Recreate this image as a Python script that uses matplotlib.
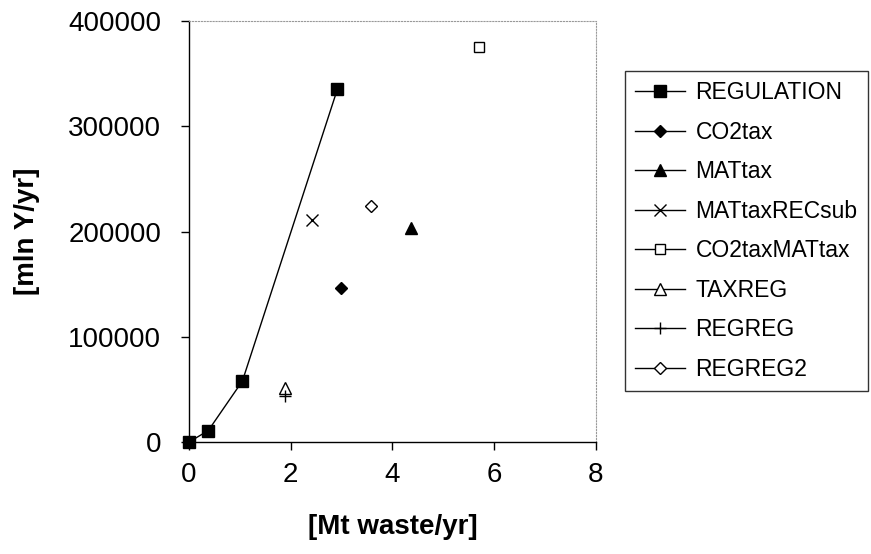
import matplotlib.pyplot as plt

plt.rcParams['font.family'] = ['Liberation Sans', 'DejaVu Sans']

# data
reg_x = [0.0, 0.38, 1.05, 2.92]
reg_y = [0, 11000, 58000, 335500]

names = ["CO2tax", "MATtax", "MATtaxRECsub", "CO2taxMATtax", "TAXREG", "REGREG", "REGREG2"]
pts_x = [2.99, 4.37, 2.42, 5.70, 1.88, 1.88, 3.58]
pts_y = [146000, 203000, 211000, 375000, 51000, 44000, 224000]

styles = [
    dict(marker="D", mfc="black", ms=6),
    dict(marker="^", mfc="black", ms=8),
    dict(marker="x", mfc="black", ms=9, mew=1.0),
    dict(marker="s", mfc="white", ms=7.5, mew=1.0),
    dict(marker="^", mfc="white", ms=8, mew=1.0),
    dict(marker="+", mfc="black", ms=9, mew=1.0),
    dict(marker="D", mfc="white", ms=6, mew=1.0),
]

fig = plt.figure(figsize=(8.71, 5.54), dpi=100)
ax = fig.add_axes([0.217, 0.202, 0.467, 0.760])

ax.plot(reg_x, reg_y, "-", color="black", lw=1.0, marker="s", ms=8,
        mfc="black", mec="black", label="REGULATION", clip_on=False, zorder=3)
for n, x, y, st in zip(names, pts_x, pts_y, styles):
    ax.plot([x], [y], "-", color="black", lw=1.0, mec="black", label=n,
            clip_on=False, zorder=3, **st)

ax.set_xlim(0, 8)
ax.set_ylim(0, 400000)
ax.set_xticks([0, 2, 4, 6, 8])
ax.set_yticks([0, 100000, 200000, 300000, 400000])
ax.tick_params(direction="out", length=6, width=1, labelsize=20)
ax.tick_params(axis="y", pad=14)
ax.tick_params(axis="x", pad=8)

for s in ["top", "right"]:
    ax.spines[s].set_color("#999999")
    ax.spines[s].set_linestyle(":")
    ax.spines[s].set_linewidth(0.8)
for s in ["left", "bottom"]:
    ax.spines[s].set_color("black")
    ax.spines[s].set_linewidth(1.0)

ax.set_xlabel("[Mt waste/yr]", fontsize=20, fontweight="bold", labelpad=19)
ax.set_ylabel("[mln Y/yr]", fontsize=20, fontweight="bold", labelpad=20)

leg = fig.legend(loc="upper left", bbox_to_anchor=(0.717, 0.872), fontsize=16.5,
                 frameon=True, fancybox=False, edgecolor="black",
                 handlelength=2.2, labelspacing=0.72, borderpad=0.45,
                 handletextpad=0.45, borderaxespad=0)
leg.get_frame().set_linewidth(1.0)

fig.savefig("out.png", dpi=100)
